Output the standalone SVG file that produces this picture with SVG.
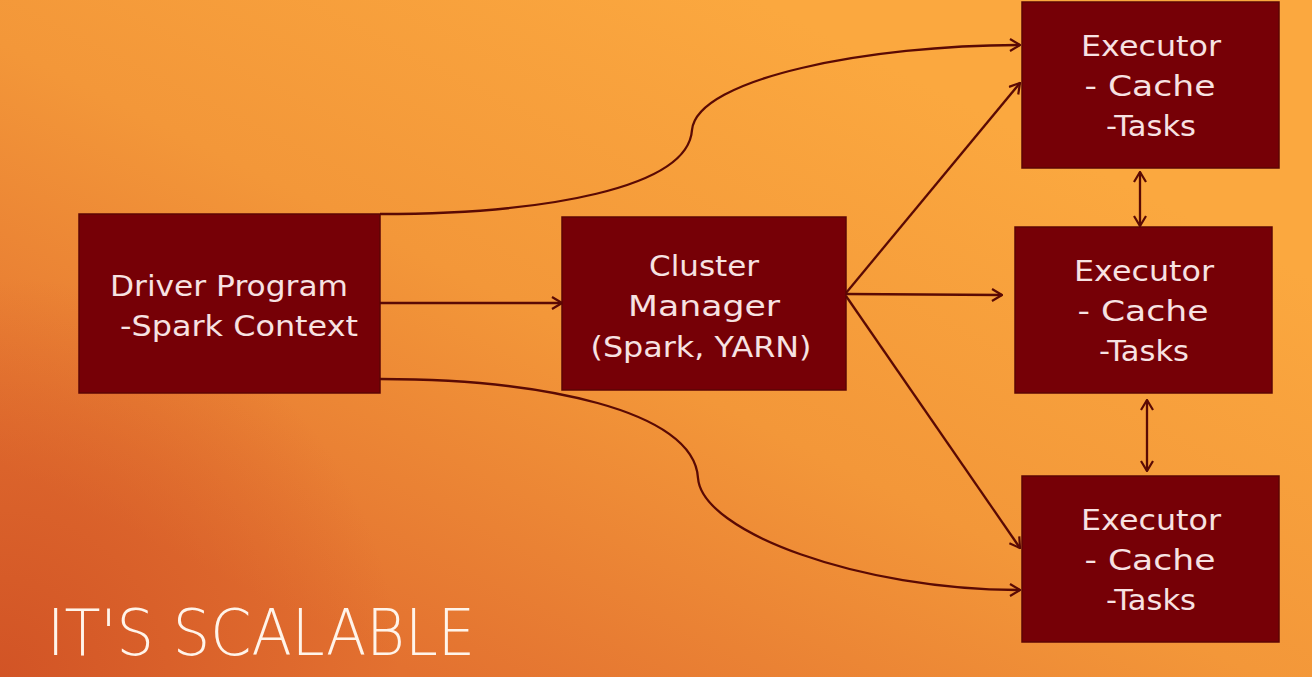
<svg xmlns="http://www.w3.org/2000/svg" width="1312" height="677" viewBox="0 0 1312 677">
<defs>
<linearGradient id="bg" x1="760" y1="0" x2="420" y2="677" gradientUnits="userSpaceOnUse">
<stop offset="0" stop-color="#fba83f"/>
<stop offset="0.5" stop-color="#f39739"/>
<stop offset="1" stop-color="#e37130"/>
</linearGradient>
<radialGradient id="corner" cx="0" cy="677" r="400" gradientUnits="userSpaceOnUse">
<stop offset="0" stop-color="#cc4a22" stop-opacity="0.75"/>
<stop offset="1" stop-color="#cc4a22" stop-opacity="0"/>
</radialGradient>
<marker id="ah" viewBox="0 0 12 14" refX="11" refY="7" markerWidth="12" markerHeight="14" markerUnits="userSpaceOnUse" orient="auto-start-reverse">
<path d="M1,1 L11,7 L1,13" fill="none" stroke="#5a0a04" stroke-width="2.2"/>
</marker>
<style>
.box{fill:#760006;stroke:#5c0404;stroke-width:1.5}
.t{font-family:"DejaVu Sans",sans-serif;font-size:28px;fill:#f7e2e2;text-anchor:middle}
.c{fill:none;stroke:#5a0a04;stroke-width:2.3}
</style>
</defs>
<rect width="1312" height="677" fill="url(#bg)"/>
<rect width="1312" height="677" fill="url(#corner)"/>
<g id="connectors">
<path class="c" d="M380,214 C545,214 688,188 692,130 C697,78 870,45 1020,45" marker-end="url(#ah)"/>
<path class="c" d="M380,303 L562,303" marker-end="url(#ah)"/>
<path class="c" d="M380,379 C540,379 694,410 698,478 C702,532 860,590 1020,590" marker-end="url(#ah)"/>
<path class="c" d="M846,293 L1020,83" marker-end="url(#ah)"/>
<path class="c" d="M846,294 L1002,295" marker-end="url(#ah)"/>
<path class="c" d="M846,296 L1020,548" marker-end="url(#ah)"/>
<path class="c" d="M1140,172 L1140,226" marker-start="url(#ah)" marker-end="url(#ah)"/>
<path class="c" d="M1147,400 L1147,471" marker-start="url(#ah)" marker-end="url(#ah)"/>
</g>
<g id="driver">
<rect class="box" x="79" y="214" width="301" height="179"/>
<text class="t" x="229" y="296" textLength="238" lengthAdjust="spacingAndGlyphs">Driver Program</text>
<text class="t" x="239" y="336" textLength="238" lengthAdjust="spacingAndGlyphs">-Spark Context</text>
</g>
<g id="cluster">
<rect class="box" x="562" y="217" width="284" height="173"/>
<text class="t" x="704" y="276" textLength="110" lengthAdjust="spacingAndGlyphs">Cluster</text>
<text class="t" x="704" y="316" textLength="152" lengthAdjust="spacingAndGlyphs">Manager</text>
<text class="t" x="701" y="357" textLength="221" lengthAdjust="spacingAndGlyphs">(Spark, YARN)</text>
</g>
<g id="executor1">
<rect class="box" x="1022" y="2" width="257" height="166"/>
<text class="t" x="1151" y="56" textLength="140" lengthAdjust="spacingAndGlyphs">Executor</text>
<text class="t" x="1150" y="96" textLength="131" lengthAdjust="spacingAndGlyphs">- Cache</text>
<text class="t" x="1151" y="136" textLength="90" lengthAdjust="spacingAndGlyphs">-Tasks</text>
</g>
<g id="executor2">
<rect class="box" x="1015" y="227" width="257" height="166"/>
<text class="t" x="1144" y="281" textLength="140" lengthAdjust="spacingAndGlyphs">Executor</text>
<text class="t" x="1143" y="321" textLength="131" lengthAdjust="spacingAndGlyphs">- Cache</text>
<text class="t" x="1144" y="361" textLength="90" lengthAdjust="spacingAndGlyphs">-Tasks</text>
</g>
<g id="executor3">
<rect class="box" x="1022" y="476" width="257" height="166"/>
<text class="t" x="1151" y="530" textLength="140" lengthAdjust="spacingAndGlyphs">Executor</text>
<text class="t" x="1150" y="570" textLength="131" lengthAdjust="spacingAndGlyphs">- Cache</text>
<text class="t" x="1151" y="610" textLength="90" lengthAdjust="spacingAndGlyphs">-Tasks</text>
</g>
<g id="title">
<text x="47" y="655" font-family="DejaVu Sans, sans-serif" font-weight="200" font-size="64" fill="#fff4ea" textLength="428" lengthAdjust="spacingAndGlyphs">IT'S SCALABLE</text>
</g>
</svg>
